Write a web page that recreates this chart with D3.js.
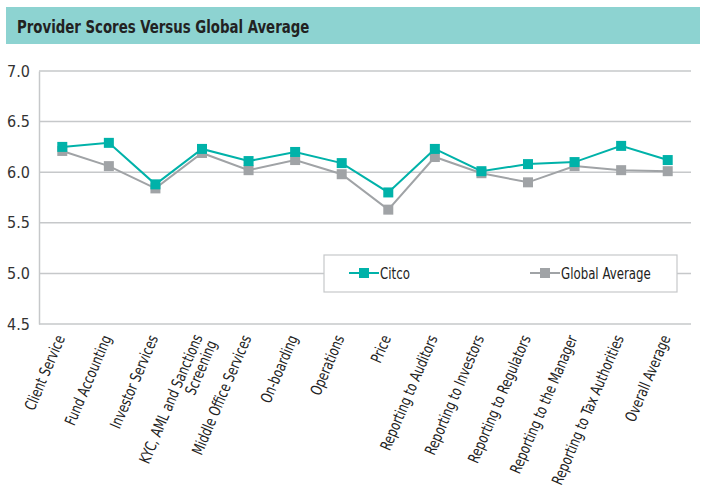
<!DOCTYPE html>
<html>
<head>
<meta charset="utf-8">
<script src="https://cdn.jsdelivr.net/npm/d3@7"></script>
<style>
  body { margin: 0; background: #fff; }
  svg text { font-family: "DejaVu Sans Condensed", "DejaVu Sans", sans-serif; font-stretch: condensed; }
</style>
</head>
<body>
<svg width="701" height="494"></svg>
<script>
// categories along the x axis
var categories = [
  "Client Service", "Fund Accounting", "Investor Services",
  "KYC, AML and Sanctions|Screening", "Middle Office Services", "On-boarding",
  "Operations", "Price", "Reporting to Auditors", "Reporting to Investors",
  "Reporting to Regulators", "Reporting to the Manager",
  "Reporting to Tax Authorities", "Overall Average"
];
var citco = [6.25, 6.29, 5.88, 6.23, 6.11, 6.20, 6.09, 5.80, 6.23, 6.01, 6.08, 6.10, 6.26, 6.12];
var globalAvg = [6.21, 6.06, 5.84, 6.19, 6.02, 6.12, 5.98, 5.63, 6.15, 5.99, 5.90, 6.06, 6.02, 6.01];
var yTicks = [4.5, 5.0, 5.5, 6.0, 6.5, 7.0];

var teal = "#00b2a9", grey = "#a0a3a6";
var svg = d3.select("svg");

// title bar
svg.append("rect").attr("x", 6).attr("y", 7).attr("width", 694).attr("height", 37).attr("fill", "#8dd3d1");
svg.append("text")
  .attr("transform", "translate(17,33) scale(0.8,1)")
  .text("Provider Scores Versus Global Average")
  .style("font-size", "18.5px").style("font-weight", "bold").style("fill", "#222");

var plotLeft = 39, plotRight = 691, plotTop = 71, plotBottom = 324;

var xScale = d3.scalePoint().domain(categories).range([plotLeft, plotRight]).padding(0.5);
var yScale = d3.scaleLinear().domain([4.5, 7.0]).range([plotBottom, plotTop]);

// gridlines
svg.append("g").selectAll("line")
  .data(yTicks.slice(1))
  .enter().append("line")
  .attr("x1", plotLeft).attr("x2", plotRight)
  .attr("y1", d => yScale(d)).attr("y2", d => yScale(d))
  .attr("stroke", "#c6c8ca").attr("stroke-width", 1.5);

// y axis
var yAxis = d3.axisLeft(yScale).tickValues(yTicks).tickFormat(d3.format(".1f")).tickSize(0).tickPadding(9);
var gy = svg.append("g").attr("transform", `translate(${plotLeft},0)`).call(yAxis);
gy.select(".domain").attr("stroke", "#c6c8ca").attr("stroke-width", 1.5);
gy.selectAll("text").style("font-size", "16px").style("fill", "#333");

// bottom axis line
svg.append("line").attr("x1", plotLeft).attr("x2", plotRight).attr("y1", plotBottom).attr("y2", plotBottom)
  .attr("stroke", "#c6c8ca").attr("stroke-width", 1.5);

// x labels
var xl = svg.append("g").selectAll("text")
  .data(categories)
  .enter().append("text")
  .attr("transform", d => `translate(${xScale(d) + 3},${plotBottom + 14}) rotate(-67) scale(0.83,1)`)
  .attr("text-anchor", "end")
  .style("font-size", "15.5px").style("fill", "#222");
xl.each(function (d) {
  var parts = d.split("|");
  var t = d3.select(this);
  parts.forEach(function (p, i) {
    t.append("tspan").attr("x", 0).attr("dy", i == 0 ? (parts.length > 1 ? "-0.15em" : "0") : "1em").text(p);
  });
});

// series
var series = [
  { name: "Global Average", values: globalAvg, color: grey },
  { name: "Citco", values: citco, color: teal }
];
var line = d3.line().x((d, i) => xScale(categories[i])).y(d => yScale(d));

series.forEach(function (s) {
  svg.append("path").datum(s.values)
    .attr("d", line).attr("fill", "none")
    .attr("stroke", s.color).attr("stroke-width", 2);
  svg.append("g").selectAll("rect")
    .data(s.values)
    .enter().append("rect")
    .attr("x", (d, i) => xScale(categories[i]) - 5)
    .attr("y", d => yScale(d) - 5)
    .attr("width", 10).attr("height", 10)
    .attr("fill", s.color);
});

// legend
var lg = svg.append("g");
lg.append("rect").attr("x", 324).attr("y", 255).attr("width", 353).attr("height", 37)
  .attr("fill", "#fff").attr("stroke", "#c6c8ca").attr("stroke-width", 1.2);
var legendItems = [
  { name: "Citco", color: teal, x: 349 },
  { name: "Global Average", color: grey, x: 530 }
];
legendItems.forEach(function (s) {
  lg.append("line").attr("x1", s.x).attr("x2", s.x + 30).attr("y1", 273).attr("y2", 273)
    .attr("stroke", s.color).attr("stroke-width", 2);
  lg.append("rect").attr("x", s.x + 10).attr("y", 268).attr("width", 10).attr("height", 10).attr("fill", s.color);
  lg.append("text").attr("transform", `translate(${s.x + 31},279) scale(0.82,1)`).text(s.name)
    .style("font-size", "16px").style("fill", "#222");
});
</script>
</body>
</html>
